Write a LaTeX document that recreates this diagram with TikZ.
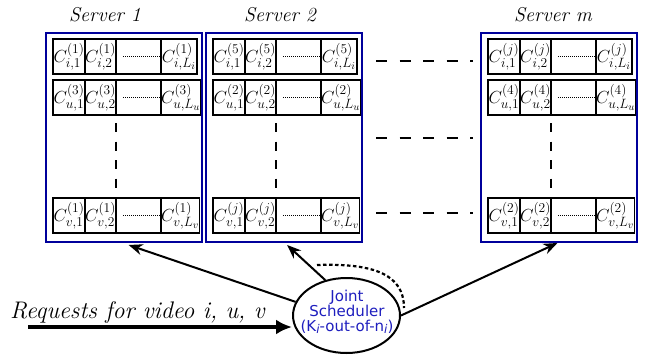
\RequirePackage{fix-cm}
\documentclass[tikz,border=0pt]{standalone}
\usepackage{fontspec}
\newfontfamily\schedfont{DejaVu Sans}
\usetikzlibrary{arrows.meta,calc,shapes.geometric}
\DeclareMathSizes{17.5}{17.5}{13.5}{10.5}
\definecolor{boxblue}{RGB}{0,0,155}
\definecolor{txtblue}{RGB}{30,30,190}
\newcommand\crow[5]{%
  \node[cell,minimum width=32pt] (#1a) at (#2,#3) {$C^{(#4)}_{#5,1}$};
  \node[cell,minimum width=31pt] (#1b) at (#1a.north east) {$C^{(#4)}_{#5,2}$};
  \node[cell,minimum width=45pt] (#1c) at (#1b.north east) {};
  \node[cell,minimum width=36pt] (#1d) at (#1c.north east) {$C^{(#4)}_{#5,L_{#5}}$};
  \draw[celldots] ($(#1c.west)+(7,0)$) -- ($(#1c.east)+(2,0)$);
}
\newcommand\schedsub[1]{\raisebox{-0.3ex}{\fontsize{12}{12}\selectfont\itshape #1}}
\begin{document}
\begin{tikzpicture}[x=1pt,y=-1pt,
  serverbox/.style={draw=boxblue, line width=2.8pt, inner sep=0pt, outer sep=0pt, anchor=north west, minimum width=156pt, minimum height=209pt},
  cell/.style={draw=black, line width=1.3pt, fill=white, inner sep=0pt, outer sep=0pt, anchor=north west, minimum height=35pt, font=\fontsize{17.5}{19}\selectfont},
  celldots/.style={line width=1.3pt, dash pattern=on 1pt off 1pt},
  title/.style={font=\fontsize{20}{22}\selectfont\itshape, inner sep=0pt},
  vdash/.style={line width=2.4pt, dash pattern=on 9pt off 9.5pt},
  hdash/.style={line width=2.4pt, dash pattern=on 11pt off 12.5pt},
  arr/.style={line width=2pt, -{Stealth[length=14pt,width=11pt]}},
  bigarr/.style={line width=4.5pt, -{Latex[length=16pt,width=15pt]}},
  arcdash/.style={line width=2.2pt, dash pattern=on 3.5pt off 2.5pt},
  sched/.style={ellipse, draw=black, line width=2pt, minimum width=107pt, minimum height=75pt, inner sep=0pt},
  schedtext/.style={align=center, text=txtblue, font=\schedfont\fontsize{15}{15}\selectfont, inner sep=0pt}
]
\useasboundingbox (0,0) rectangle (647,356);

% server boxes
\node[serverbox] (s1) at (46,33) {};
\node[serverbox] (s2) at (206,33) {};
\node[serverbox] (sm) at (481,33) {};

% titles
\node[title] (t1) at (105,15) {Server 1};
\node[title] (t2) at (280,15) {Server 2};
\node[title] (tm) at (553,15) {Server m};

% rows
\crow{s1i}{53}{39}{1}{i}
\crow{s1u}{53}{80}{3}{u}
\crow{s1v}{53}{198}{1}{v}
\crow{s2i}{213}{39}{5}{i}
\crow{s2u}{213}{80}{2}{u}
\crow{s2v}{213}{198}{j}{v}
\crow{smi}{488}{39}{j}{i}
\crow{smu}{488}{80}{4}{u}
\crow{smv}{488}{198}{2}{v}

% vertical dashes inside servers
\draw[vdash] ($(s1ub.south east)+(0,8)$) -- ($(s1vb.north east)+(0,-8)$);
\draw[vdash] ($(s2ub.south east)+(0,8)$) -- ($(s2vb.north east)+(0,-8)$);
\draw[vdash] ($(smub.south east)+(0,8)$) -- ($(smvb.north east)+(0,-8)$);

% horizontal dashes between server 2 and server m
\draw[hdash] ($(s2.north east)+(14,28)$) -- ($(sm.north west)+(-8,28)$);
\draw[hdash] ($(s2.north east)+(14,105)$) -- ($(sm.north west)+(-8,105)$);
\draw[hdash] ($(s2.north east)+(14,180)$) -- ($(sm.north west)+(-8,180)$);

% scheduler
\node[sched] (sch) at (346.5,315.5) {};
\node[schedtext] (schtxt) at (347,312) {Joint\\Scheduler\\(K\schedsub{i}-out-of-n\schedsub{i})};

% dotted arc
\coordinate (arcA) at (317,265);
\coordinate (arcB) at (404,308);
\draw[arcdash] (arcA) .. controls (375,263) and (404,275) .. (arcB);

% arrows to servers
\draw[arr] (sch.165) -- ($(s1.south west)!0.53!(s1.south east)+(0,3)$);
\draw[arr] (sch.121) -- ($(s2.south west)!0.52!(s2.south east)+(0,3)$);
\draw[arr] (sch.east) -- ($(sm.south west)!0.49!(sm.south east)+(0,1)$);

% requests
\node[font=\fontsize{24}{26}\selectfont\itshape, anchor=base west, inner sep=0pt] (reqtxt) at (10,318) {Requests for video i, u, v};
\coordinate (req) at (28,327);
\draw[bigarr] (req) -- (req -| sch.west);
\end{tikzpicture}
\end{document}
